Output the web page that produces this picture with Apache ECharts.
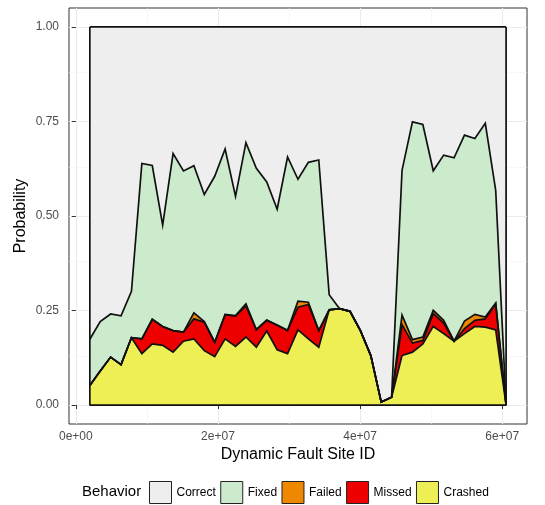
<!DOCTYPE html>
<html>
<head>
<meta charset="utf-8">
<script src="https://cdn.jsdelivr.net/npm/echarts@6/dist/echarts.min.js"></script>
<style>html,body{margin:0;padding:0;background:#fff;}#c{width:545px;height:505px;}</style>
</head>
<body>
<div id="c"></div>
<script>
// Dynamic fault site IDs (x)
const siteIds = [1970000, 3434500, 4899000, 6363500, 7828000, 9292500, 10757000, 12221500, 13686000, 15150500,
  16615000, 18079500, 19544000, 21008500, 22473000, 23937500, 25402000, 26866500, 28331000, 29795500,
  31260000, 32724500, 34189000, 35653500, 37118000, 38582500, 40047000, 41511500, 42976000, 44440500,
  45905000, 47369500, 48834000, 50298500, 51763000, 53227500, 54692000, 56156500, 57621000, 59085500, 60550000];
const crashed = [0.052,0.090,0.127,0.107,0.178,0.136,0.162,0.158,0.140,0.169,
  0.175,0.144,0.128,0.175,0.155,0.180,0.153,0.196,0.146,0.136,
  0.199,0.175,0.153,0.252,0.255,0.248,0.197,0.131,0.008,0.021,
  0.131,0.140,0.162,0.208,0.189,0.169,0.189,0.208,0.206,0.199,0];
const missed = [0,0,0,0,0,0.039,0.065,0.050,0.057,0.024,
  0.053,0.075,0.037,0.064,0.080,0.082,0.046,0.028,0.065,0.061,
  0.060,0.091,0.044,0,0,0,0,0,0,0,
  0.082,0.024,0.009,0.034,0.028,0,0.013,0.016,0.022,0.069,0];
const failed = [0,0,0,0,0,0,0,0,0,0,
  0.016,0.002,0.002,0.001,0.0015,0.006,0.001,0.001,0.001,0.001,
  0.016,0.006,0,0,0,0,0,0,0,0,
  0.025,0.009,0.009,0.0085,0.007,0,0.020,0.016,0.005,0.002,0];
const fixed = [0.122,0.131,0.114,0.129,0.123,0.464,0.4065,0.268,0.468,0.426,
  0.389,0.336,0.438,0.437,0.3155,0.426,0.426,0.365,0.306,0.458,
  0.322,0.370,0.451,0.040,0,0,0,0,0,0,
  0.383,0.576,0.562,0.369,0.437,0.485,0.492,0.465,0.512,0.298,0];
const correct = [0.826,0.779,0.759,0.764,0.699,0.361,0.367,0.524,0.335,0.381,
  0.367,0.443,0.395,0.323,0.448,0.306,0.374,0.410,0.482,0.344,
  0.403,0.358,0.352,0.708,0.745,0.752,0.803,0.869,0.992,0.979,
  0.379,0.251,0.258,0.381,0.339,0.346,0.286,0.295,0.255,0.432,1];
const xTicks = [0, 20000000, 40000000, 60000000];
const xMinor = [10000000, 30000000, 50000000];
const yTicks = [0, 0.25, 0.5, 0.75, 1];
const yMinor = [0.125, 0.375, 0.625, 0.875];
const behaviors = ['Correct','Fixed','Failed','Missed','Crashed'];
const colors = {Correct:'#eeeeee', Fixed:'#ccebcc', Failed:'#ee8800', Missed:'#ee0000', Crashed:'#eeee55'};

const FONT = 'Liberation Sans, Arial, sans-serif';
const values = {Crashed: crashed, Missed: missed, Failed: failed, Fixed: fixed, Correct: correct};
const stackOrder = ['Crashed','Missed','Failed','Fixed','Correct'];

// cumulative tops (stack bottom-up); painted top-down so each lower band overlays
const cumulative = {};
let running = siteIds.map(() => 0);
stackOrder.forEach(name => {
  running = running.map((r, i) => r + values[name][i]);
  cumulative[name] = running.slice();
});

const series = [];
const gridLineData = [];
xTicks.forEach(v => gridLineData.push({xAxis: v, lineStyle:{color:'#ebebeb', width:1.1, type:'solid'}}));
xMinor.forEach(v => gridLineData.push({xAxis: v, lineStyle:{color:'#f3f3f3', width:0.6, type:'solid'}}));
yTicks.forEach(v => gridLineData.push({yAxis: v, lineStyle:{color:'#ebebeb', width:1.1, type:'solid'}}));
yMinor.forEach(v => gridLineData.push({yAxis: v, lineStyle:{color:'#f3f3f3', width:0.6, type:'solid'}}));
series.push({
  name: 'grid', type: 'line', data: [], symbol: 'none', silent: true, z: 0,
  markLine: {silent: true, symbol: ['none','none'], label: {show:false}, z: 0,
    animation: false, data: gridLineData}
});

stackOrder.slice().reverse().forEach(name => {
  series.push({
    name: name, type: 'line', symbol: 'none', smooth: false,
    data: siteIds.map((x, i) => [x, Math.min(1, cumulative[name][i])]),
    itemStyle: {color: colors[name]},
    lineStyle: {color: '#111', width: 1.7, join: 'miter'},
    areaStyle: {color: colors[name], opacity: 1, origin: 0},
    z: 2
  });
});

const xFirst = siteIds[0], xLast = siteIds[siteIds.length-1];
series.push({
  name: 'outline', type: 'line', symbol: 'none', silent: true, z: 3,
  data: [[xFirst, 1], [xFirst, 0], [xLast, 0], [xLast, 1]],
  lineStyle: {color: '#111', width: 1.7}
});

const chart = echarts.init(document.getElementById('c'), null, {renderer: 'canvas'});
chart.setOption({
  animation: false,
  backgroundColor: '#fff',
  grid: {left: 69, right: 18, top: 8, bottom: 81, show: true, borderColor: '#333', borderWidth: 1, backgroundColor: '#fff'},
  xAxis: {
    type: 'value', min: -960000, max: 63490000,
    name: 'Dynamic Fault Site ID', nameLocation: 'middle', nameGap: 23, nameMoveOverlap: false,
    nameTextStyle: {fontFamily: FONT, fontSize: 16, color: '#000'},
    axisLine: {show: false},
    axisTick: {show: true, customValues: xTicks, length: 4, lineStyle: {color: '#333'}},
    axisLabel: {customValues: xTicks, color: '#4d4d4d', fontFamily: FONT, fontSize: 12, margin: 7,
      formatter: v => v === 0 ? '0e+00' : (v/1e7) + 'e+07'},
    splitLine: {show: false}
  },
  yAxis: {
    type: 'value', min: -0.05, max: 1.05,
    name: 'Probability', nameLocation: 'middle', nameGap: 40, nameRotate: 90, nameMoveOverlap: false,
    nameTextStyle: {fontFamily: FONT, fontSize: 16, color: '#000'},
    axisLine: {show: false},
    axisTick: {show: true, customValues: yTicks, length: 4, lineStyle: {color: '#333'}},
    axisLabel: {customValues: yTicks, color: '#4d4d4d', fontFamily: FONT, fontSize: 12, margin: 10,
      formatter: v => v.toFixed(2)},
    splitLine: {show: false}
  },
  legend: {
    data: behaviors, left: 149, top: 481, padding: 0, icon: 'rect', itemWidth: 22, itemHeight: 22, itemGap: 4.4,
    itemStyle: {borderColor: '#222', borderWidth: 1},
    textStyle: {fontFamily: FONT, fontSize: 12, color: '#000'},
    selectedMode: false
  },
  graphic: [{type: 'text', left: 82, top: 484, style: {text: 'Behavior', fontFamily: FONT, fontSize: 15, fill: '#000'}}],
  series: series
});
</script>
</body>
</html>
